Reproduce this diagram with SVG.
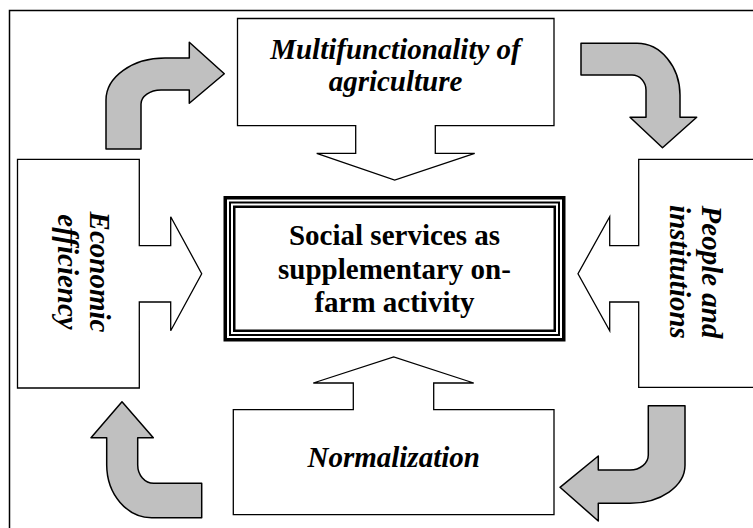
<svg xmlns="http://www.w3.org/2000/svg" width="753" height="528" viewBox="0 0 753 528">
  <style>
    .frame { fill: none; stroke: #000; stroke-width: 1.5; }
    .callout { fill: #fff; stroke: #000; stroke-width: 1.3; stroke-linejoin: miter; }
    .bend { fill: #c0c0c0; stroke: #000; stroke-width: 1.5; stroke-linejoin: round; }
    .label { font-family: "Liberation Serif", "Times New Roman", serif; font-size: 29px; font-weight: bold; font-style: italic; fill: #000; text-anchor: middle; }
    .core { font-family: "Liberation Serif", "Times New Roman", serif; font-size: 29px; font-weight: bold; fill: #000; text-anchor: middle; }
    .ring { fill: none; stroke: #000; }
  </style>

  <rect width="753" height="528" fill="#fff"/>
  <!-- outer border, runs past the right and bottom edges -->
  <rect class="frame" x="9.5" y="10.5" width="760" height="540"/>

  <!-- curved arrows linking the four factors clockwise -->
  <g id="connectors">
    <path class="bend" d="M106,149 L106,100 A59,42 0 0 1 165,58 L189.3,58 L189.3,42.3 L224.3,73.8 L189.3,103.3 L189.3,90 L161,90 A20,14 0 0 0 141,104 L141,149 Z"/>
    <path class="bend" d="M581,43.3 L637,43.3 A43,52 0 0 1 680,95 L680,117.3 L696.7,117.3 L662.5,147.7 L630,117.3 L646,117.3 L646,90 A14,15 0 0 0 632,75 L581,75 Z"/>
    <path class="bend" d="M648.3,405.7 L685,405.7 L685,465 A55,38 0 0 1 630,503.3 L598.3,503.3 L598.3,521 L560,487.3 L598.3,456 L598.3,470 L630,470 A18.3,15 0 0 0 648.3,455 Z"/>
    <path class="bend" d="M201.7,483.3 L201.7,517.7 L152,517.7 A45,53 0 0 1 106.7,465 L106.7,437.7 L91,437.7 L122,401.7 L153.3,437.7 L137.7,437.7 L137.7,465 A16,18.3 0 0 0 153.7,483.3 Z"/>
  </g>

  <!-- top factor -->
  <g id="multifunctionality">
    <path class="callout" d="M237.5,18.5 H554 V125.7 H435.3 V153.3 H474.7 L394.7,180 L316.7,153.3 H355.7 V125.7 H237.5 Z"/>
    <text class="label" x="395.5" y="59">Multifunctionality of</text>
    <text class="label" x="395.5" y="91">agriculture</text>
  </g>

  <!-- left factor -->
  <g id="economic-efficiency">
    <path class="callout" d="M17.5,159.3 H139.3 V245.7 H170.7 V216.7 L201.7,273.7 L170.7,330.7 V302 H139.3 V388 H17.5 Z"/>
    <g transform="translate(74,272) rotate(90)">
      <text class="label" x="0" y="-16">Economic</text>
      <text class="label" x="0" y="16">efficiency</text>
    </g>
  </g>

  <!-- right factor -->
  <g id="people-institutions">
    <path class="callout" d="M760,159.3 H638.7 V245.7 H609.7 V216.7 L578,273.7 L609.7,330.7 V302 H638.7 V387.3 H760 Z"/>
    <g transform="translate(686,272) rotate(90)">
      <text class="label" x="0" y="-16">People and</text>
      <text class="label" x="0" y="16">institutions</text>
    </g>
  </g>

  <!-- bottom factor -->
  <g id="normalization">
    <path class="callout" d="M233.3,514.7 V409.7 H353.3 V383 H313.3 L393.7,357 L473.7,383 H433.7 V409.7 H554 V514.7 Z"/>
    <text class="label" x="393.7" y="466.5">Normalization</text>
  </g>

  <!-- central box with triple border -->
  <g id="social-services">
    <rect x="223.5" y="196" width="342" height="145.5" fill="#fff"/>
    <rect class="ring" x="225.25" y="197.75" width="338.5" height="142" stroke-width="3.5"/>
    <rect class="ring" x="230" y="202.5" width="329" height="132.5" stroke-width="2"/>
    <rect class="ring" x="234.25" y="206.75" width="320.5" height="124" stroke-width="2.5"/>
    <text class="core" x="394.5" y="245">Social services as</text>
    <text class="core" x="394.5" y="278.5">supplementary on-</text>
    <text class="core" x="394.5" y="312">farm activity</text>
  </g>
</svg>
